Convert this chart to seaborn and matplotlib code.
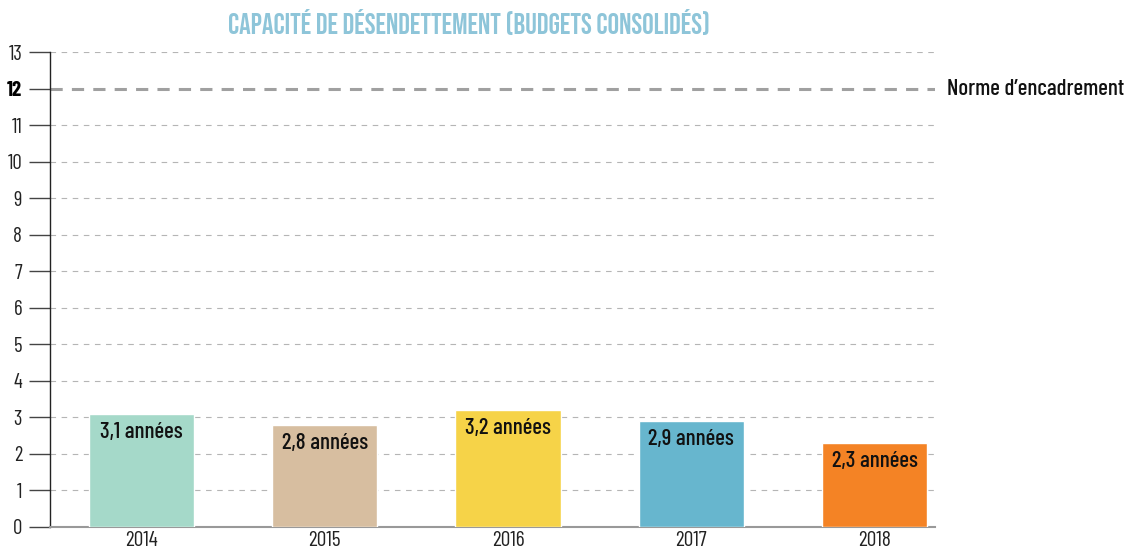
import numpy as np
import pandas as pd
import matplotlib.pyplot as plt
import seaborn as sns

# data
years = ["2014", "2015", "2016", "2017", "2018"]
values = [3.1, 2.8, 3.2, 2.9, 2.3]
labels = ["3,1 années", "2,8 années", "3,2 années", "2,9 années", "2,3 années"]
colors = ["#a5d9c9", "#d7bea0", "#f6d348", "#67b6ce", "#f48325"]
norme = 12

df = pd.DataFrame({"annee": years, "valeur": values})

sns.set_style("white")
plt.rcParams['font.family'] = ['Barlow Condensed', 'DejaVu Sans']

fig = plt.figure(figsize=(11.32, 5.53), dpi=100)
ax = fig.add_axes([50/1132, 26/553, 885/1132, 475/553])

sns.barplot(data=df, x="annee", y="valeur", hue="annee", palette=colors,
            legend=False, width=0.574, ax=ax, zorder=3, saturation=1)

# grid
for y in range(0, 14):
    if y == norme:
        continue
    ax.axhline(y, color="#b5b5b5", lw=0.8, ls=(0, (5, 5)), zorder=1)
ax.axhline(norme, color="#a0a0a0", lw=2.2, ls=(0, (4, 3)), zorder=1)
ax.text(1.013, norme, "Norme d\u2019encadrement", transform=ax.get_yaxis_transform(),
        va="center", ha="left", fontsize=16.5, fontweight=500, color="#111111")

# labels in bars
for i, (v, lab) in enumerate(zip(values, labels)):
    ax.text(i, v - 0.5, lab, ha="center", va="center", fontsize=16.5, fontweight=500,
            color="#111111", zorder=4)

ax.set_xlim(-0.5, 4.33)
ax.set_ylim(0, 13)
ax.set_yticks(range(0, 14))
ax.set_xlabel("")
ax.set_ylabel("")
ax.tick_params(axis="y", left=True, length=15, width=1, color="#444444",
               labelsize=15, pad=5, labelcolor="#222222")
ax.tick_params(axis="x", length=0, labelsize=15.5, pad=3, labelcolor="#222222")
for t in ax.get_yticklabels():
    if t.get_text() == str(norme):
        t.set_fontweight("bold")
        t.set_color("#000000")

for s in ["top", "right"]:
    ax.spines[s].set_visible(False)
ax.spines["left"].set_color("#222222")
ax.spines["left"].set_linewidth(1)
ax.spines["bottom"].set_color("#999999")
ax.spines["bottom"].set_linewidth(1.5)

fig.text(469/1132, 1 - 22/553, "CAPACITÉ DE DÉSENDETTEMENT (BUDGETS CONSOLIDÉS)",
         ha="center", va="center", fontsize=20.8, color="#8ec5d9",
         family=['Bebas Neue', 'Barlow Condensed', 'DejaVu Sans'])

fig.savefig("out.png", dpi=100)
